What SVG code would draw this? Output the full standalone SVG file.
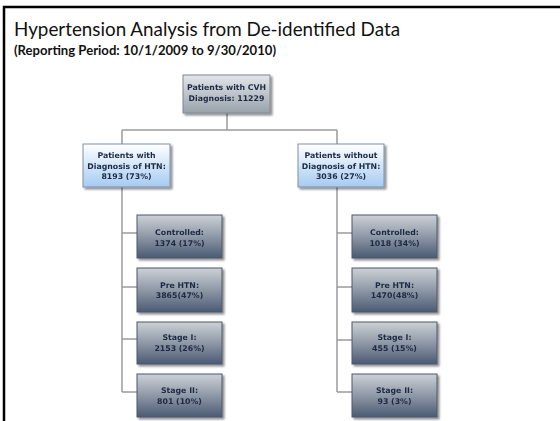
<svg xmlns="http://www.w3.org/2000/svg" width="560" height="421" viewBox="0 0 560 421">
<style>
.title{font-family:"Lato","Open Sans","Liberation Sans",sans-serif;fill:#111;}
.t{font-family:"DejaVu Sans","Verdana",sans-serif;font-weight:bold;font-size:7.8px;text-anchor:middle;fill:#1c2a44;}
.conn{stroke:#9a9a9a;stroke-width:1.5;fill:none;}
.top{fill:url(#gTop);stroke:#7f8890;stroke-width:1;}
.mid{fill:url(#gMid);stroke:#7d90a6;stroke-width:1;}
.leaf{fill:url(#gLeaf);stroke:#4d586b;stroke-width:1;}
</style>
<defs>
<linearGradient id="gTop" x1="0" y1="0" x2="0" y2="1"><stop offset="0" stop-color="#e3e6e9"/><stop offset="1" stop-color="#98a2ab"/></linearGradient>
<linearGradient id="gMid" x1="0" y1="0" x2="0" y2="1"><stop offset="0" stop-color="#ffffff"/><stop offset="1" stop-color="#a6cbf2"/></linearGradient>
<linearGradient id="gLeaf" x1="0" y1="0" x2="0" y2="1"><stop offset="0" stop-color="#ccd1d6"/><stop offset="0.5" stop-color="#8e98a6"/><stop offset="1" stop-color="#4b5a73"/></linearGradient>
<filter id="sh" x="-10%" y="-10%" width="130%" height="130%"><feGaussianBlur in="SourceAlpha" stdDeviation="1.2"/><feOffset dx="2" dy="2" result="b"/><feComponentTransfer><feFuncA type="linear" slope="0.45"/></feComponentTransfer><feMerge><feMergeNode/><feMergeNode in="SourceGraphic"/></feMerge></filter>
</defs>
<rect width="560" height="421" fill="#ffffff"/>
<path d="M4 421 V7 H560" stroke="#000" stroke-width="2.5" fill="none"/>
<text class="title" x="14" y="36" font-size="20" textLength="386" lengthAdjust="spacingAndGlyphs">Hypertension Analysis from De-identified Data</text>
<text class="title" x="14" y="55" font-size="12.5" font-weight="bold" textLength="262" lengthAdjust="spacingAndGlyphs">(Reporting Period: 10/1/2009 to 9/30/2010)</text>
<g id="connectors">
<path class="conn" d="M227 113 V130 M122 130 H337 M122 130 V145 M337 130 V144"/>
<path class="conn" d="M122 187 V392 M122 233 H137 M122 287 H137 M122 339 H137 M122 392 H137"/>
<path class="conn" d="M337 187 V392 M337 233 H352 M337 287 H352 M337 340 H352 M337 392 H352"/>
</g>
<g id="n-cvh" filter="url(#sh)"><rect class="top" x="183" y="75" width="87" height="38"/><text class="t" x="226.5" y="90">Patients with CVH</text><text class="t" x="226.5" y="101">Diagnosis: 11229</text></g>
<g id="n-htn" filter="url(#sh)"><rect class="mid" x="83" y="144" width="87" height="43"/><text class="t" x="126.5" y="158">Patients with</text><text class="t" x="126.5" y="168.5">Diagnosis of HTN:</text><text class="t" x="126.5" y="179">8193 (73%)</text></g>
<g id="n-nohtn" filter="url(#sh)"><rect class="mid" x="298" y="144" width="86" height="43"/><text class="t" x="341" y="158">Patients without</text><text class="t" x="341" y="168.5">Diagnosis of HTN:</text><text class="t" x="341" y="179">3036 (27%)</text></g>
<g id="l-controlled" filter="url(#sh)"><rect class="leaf" x="137" y="215" width="85" height="43"/><text class="t" x="179.5" y="235">Controlled:</text><text class="t" x="179.5" y="245.5">1374 (17%)</text></g>
<g id="l-prehtn" filter="url(#sh)"><rect class="leaf" x="137" y="268" width="85" height="44"/><text class="t" x="179.5" y="287.5">Pre HTN:</text><text class="t" x="179.5" y="298">3865(47%)</text></g>
<g id="l-stage1" filter="url(#sh)"><rect class="leaf" x="137" y="322" width="85" height="42"/><text class="t" x="179.5" y="340">Stage I:</text><text class="t" x="179.5" y="350.5">2153 (26%)</text></g>
<g id="l-stage2" filter="url(#sh)"><rect class="leaf" x="137" y="374" width="85" height="43"/><text class="t" x="179.5" y="393">Stage II:</text><text class="t" x="179.5" y="403.5">801 (10%)</text></g>
<g id="r-controlled" filter="url(#sh)"><rect class="leaf" x="352" y="215" width="85" height="43"/><text class="t" x="394.5" y="235">Controlled:</text><text class="t" x="394.5" y="245.5">1018 (34%)</text></g>
<g id="r-prehtn" filter="url(#sh)"><rect class="leaf" x="352" y="268" width="85" height="44"/><text class="t" x="394.5" y="287.5">Pre HTN:</text><text class="t" x="394.5" y="298">1470(48%)</text></g>
<g id="r-stage1" filter="url(#sh)"><rect class="leaf" x="352" y="322" width="85" height="42"/><text class="t" x="394.5" y="340">Stage I:</text><text class="t" x="394.5" y="350.5">455 (15%)</text></g>
<g id="r-stage2" filter="url(#sh)"><rect class="leaf" x="352" y="374" width="85" height="43"/><text class="t" x="394.5" y="393">Stage II:</text><text class="t" x="394.5" y="403.5">93 (3%)</text></g>
</svg>
